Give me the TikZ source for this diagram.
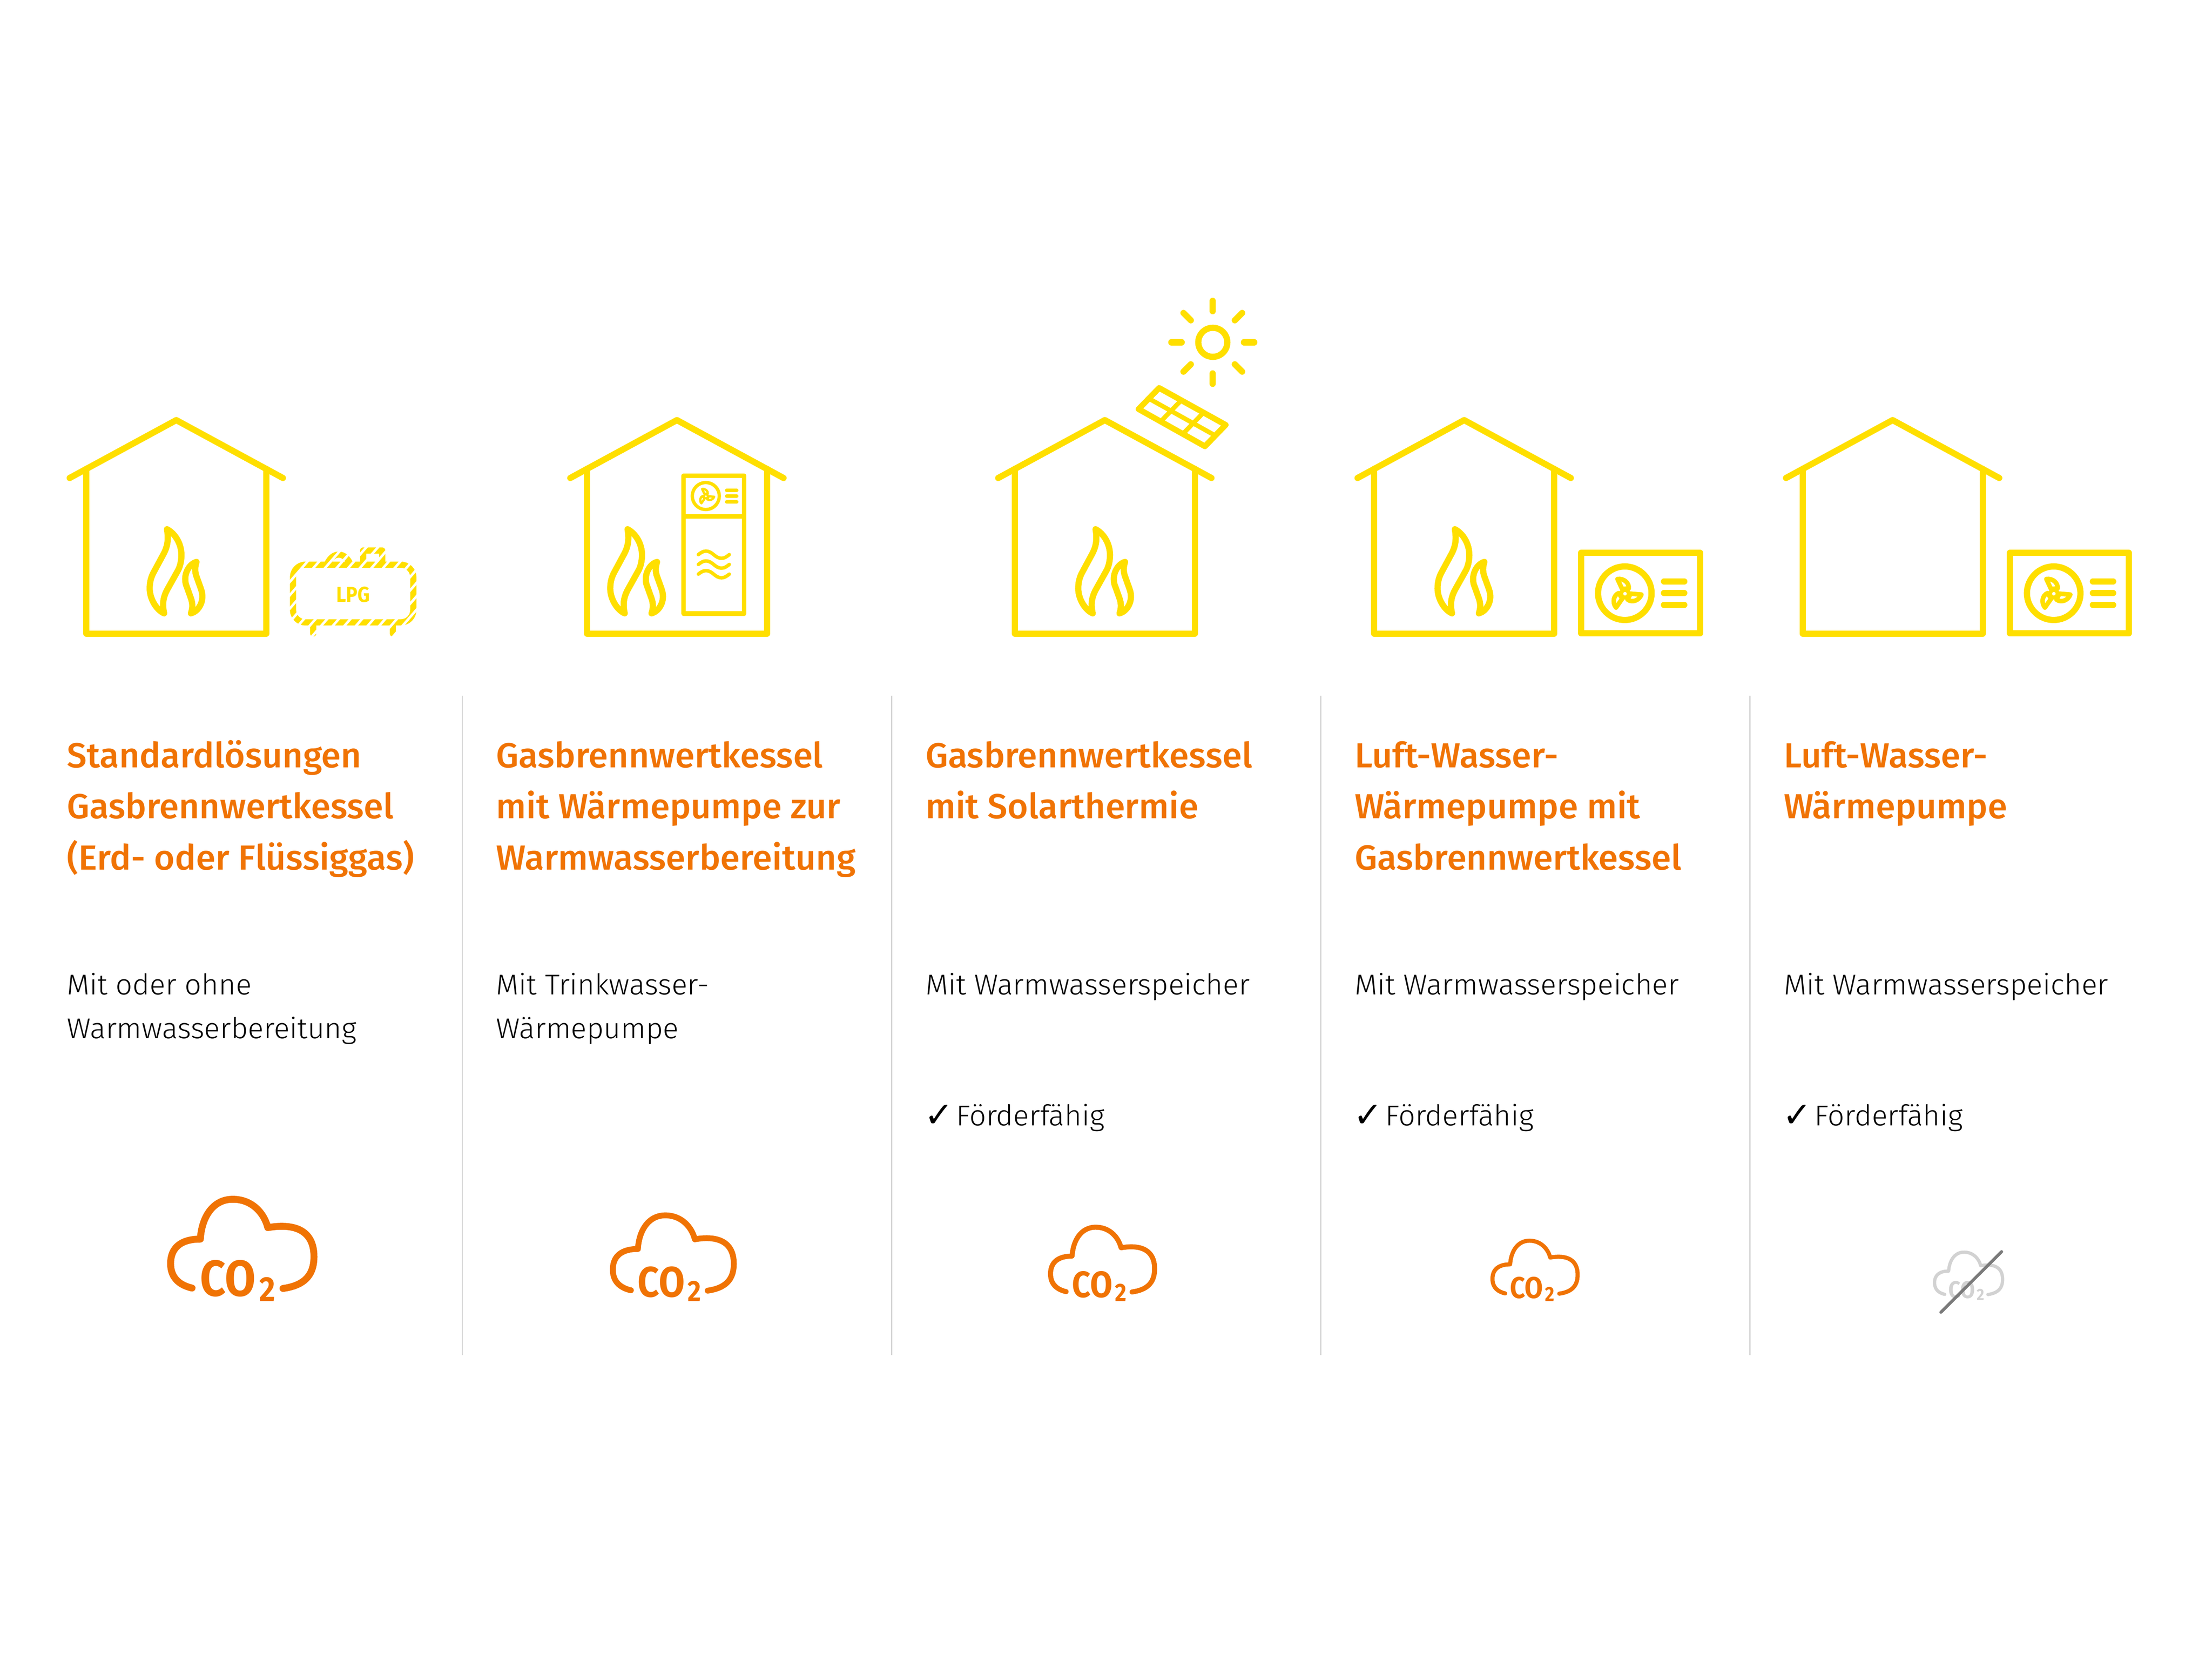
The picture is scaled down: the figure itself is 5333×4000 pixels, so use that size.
\documentclass[tikz,border=0pt]{standalone}
\usepackage{fontspec}
\setmainfont{Fira Sans}
\newfontfamily\headfont[FakeStretch=1.016]{Fira Sans Medium}
\newfontfamily\bodyfont[FakeStretch=1.027]{Fira Sans Light}
\newfontfamily\boldfont[FakeStretch=0.88]{Fira Sans}
\newfontfamily\checkfont{DejaVu Sans}
\usetikzlibrary{calc}
\definecolor{sunyellow}{HTML}{FFDF00}
\definecolor{heatorange}{HTML}{F07304}
\definecolor{rulegray}{HTML}{D4D4D4}
\definecolor{cloudgray}{HTML}{D2D2D2}
\definecolor{strikegray}{HTML}{7A7A7A}
\tikzset{
  icon/.style={draw=sunyellow,line width=15pt,line cap=round,line join=round},
  divider/.style={draw=rulegray,line width=3pt},
  headtext/.style={inner sep=0pt,anchor=base west,align=left,text=heatorange,font=\headfont\fontsize{84}{123.3}\selectfont},
  bodytext/.style={inner sep=0pt,anchor=base west,align=left,text=black,font=\bodyfont\fontsize{69}{105}\selectfont},
}
% house: apex x
\newcommand\houseicon[1]{%
  \draw[icon] (#1-257,1152) -- (#1,1012.5) -- (#1+257,1152);
  \draw[icon] (#1-217,1130) -- (#1-217,1527) -- (#1+217,1527) -- (#1+217,1130);
}
% flame pair: centre x
\newcommand\flameicon[1]{%
  \begin{scope}[shift={(#1-194.4,980)},x=0.3827pt,y=-0.3827pt]
    \draw[icon] (452,772) .. controls (462,830) and (458,875) .. (432,925)
       -- (370,1040) .. controls (350,1075) and (343,1110) .. (343,1145)
       .. controls (343,1210) and (385,1280) .. (434,1302)
       .. controls (420,1240) and (430,1195) .. (455,1150)
       -- (522,1030) .. controls (535,1005) and (543,970) .. (543,935)
       .. controls (543,865) and (505,800) .. (452,772) -- cycle;
    \draw[icon] (638,978) .. controls (595,990) and (567,1040) .. (567,1085)
       .. controls (567,1105) and (570,1120) .. (577,1135)
       -- (602,1205) .. controls (615,1240) and (614,1270) .. (603,1302)
       .. controls (645,1290) and (675,1245) .. (675,1195)
       .. controls (675,1175) and (670,1160) .. (665,1145)
       -- (638,1070) .. controls (627,1040) and (627,1010) .. (638,978) -- cycle;
  \end{scope}
}
% fan blades and hub: hub centre, scale, line width
\newcommand\fanblades[3]{%
  \begin{scope}[shift={(#1)},x=#2*0.3333pt,y=-#2*0.3333pt]
    \foreach \a in {0,120,240}{
      \draw[icon,line width=#3,rotate=\a] (-54,-106) .. controls (-8,-113) and (32,-78) .. (27,-37) -- (-21,-35) -- cycle;
    }
    \fill[sunyellow] (0,0) circle[radius=42];
    \fill[white] (0,0) circle[radius=13];
  \end{scope}
}
% outdoor unit: left x of centerline rectangle
\newcommand\outdoorunit[1]{%
  \draw[icon,line cap=butt,line join=round] (#1,1332.5) rectangle (#1+286.5,1526.5);
  \draw[icon] (#1+105.3,1429.7) circle[radius=64.5];
  \foreach \y in {1401.3,1429.3,1457.7}{\draw[icon] (#1+199.7,\y) -- (#1+248.7,\y);}
  \fanblades{#1+105.7,1431}{1}{11pt}
}
% cloud: left x, bottom y, scale, colour, name
\newcommand\cloudicon[5]{%
  \pgfmathsetmacro\cofs{122*#3}\pgfmathsetmacro\tfs{84*#3}\pgfmathsetmacro\clw{16.7*#3}%
  \begin{scope}[shift={(#1,#2)},x=#3*0.3333pt,y=-#3*0.3333pt]
    \draw[draw=#4,line width=\clw pt,line cap=round,line join=round]
      (180,-98) .. controls (105,-115) and (25,-160) .. (25,-275)
      .. controls (25,-390) and (100,-452) .. (240,-452)
      .. controls (250,-610) and (330,-740) .. (475,-740)
      .. controls (610,-740) and (700,-645) .. (728,-535)
      .. controls (930,-570) and (1062,-510) .. (1062,-325)
      .. controls (1062,-180) and (980,-115) .. (838,-95);
    \node[inner sep=0pt,anchor=base,text=#4,font=\boldfont\bfseries\fontsize{\cofs}{\cofs}\selectfont] (#5co) at (441,-42) {CO};
    \node[inner sep=0pt,anchor=base,text=#4,font=\boldfont\bfseries\fontsize{\tfs}{\tfs}\selectfont] (#5two) at (724,-2) {2};
  \end{scope}
}
\begin{document}
\begin{tikzpicture}[x=1pt,y=-1pt]
\useasboundingbox (0,0) rectangle (5333,4000);
% ---- house 1 with LPG tank
\houseicon{425}
\flameicon{424}
\begin{scope}
  \clip (690,1305) rectangle (1015,1545);
  \draw[icon,rounded corners=30pt,line cap=butt] (706.5,1361) rectangle (996.5,1500);
  \draw[icon,line cap=butt] (787.7,1361) .. controls (795,1345) and (805,1336.7) .. (816.7,1336.7) .. controls (828,1336.7) and (838,1345) .. (845.7,1361);
  \draw[icon,line cap=butt,line join=round] (875.3,1361) -- (875.3,1326.7) -- (921.3,1326.7) -- (921.3,1361);
  \draw[icon] (755,1500) -- (755,1526.8);
  \draw[icon] (947.3,1500) -- (947.3,1526.8);
  \foreach \k in {-7,...,13}{
    \draw[white,line width=6pt] (769.3+\k*28+0.87*60,1293.3) -- (769.3+\k*28-0.87*210,1563.3);
  }
\end{scope}
\node[inner sep=0pt,text=sunyellow,font=\boldfont\bfseries\fontsize{52}{52}\selectfont] (lpg) at (851.3,1433) {LPG};
% ---- house 2 with heat pump
\houseicon{1632}
\flameicon{1534.4}
\draw[icon,line width=11pt,line cap=butt] (1648,1146.5) rectangle (1793.9,1478.7);
\draw[icon,line width=11pt,line cap=butt] (1648,1245) -- (1793.9,1245);
\draw[icon,line width=8pt] (1701.6,1195.5) circle[radius=32.5];
\foreach \y in {1181.7,1195.5,1209.6}{\draw[icon,line width=8.4pt] (1752,\y) -- (1776.3,\y);}
\fanblades{1701.8,1196.2}{0.504}{5.6pt}
\begin{scope}[shift={(1340,980)},x=0.3827pt,y=-0.3827pt]
  \foreach \d in {0,62,123}{
    \draw[icon,line width=8.4pt] (898,932+\d) .. controls (915,918+\d) and (930,910+\d) .. (945,910+\d)
      .. controls (990,910+\d) and (1000,955+\d) .. (1045,955+\d)
      .. controls (1062,955+\d) and (1075,946+\d) .. (1093,932+\d);
  }
\end{scope}
% ---- house 3 with solar panel and sun
\houseicon{2663.7}
\flameicon{2662.7}
\coordinate (pa) at (2794.6,935);
\coordinate (pb) at (2955,1024);
\coordinate (pc) at (2905,1075.7);
\coordinate (pd) at (2745,986);
\draw[icon,line width=14pt] (pa) -- (pb) -- (pc) -- (pd) -- cycle;
\draw[icon,line width=11pt,line cap=butt] ($(pa)!0.5!(pd)$) -- ($(pb)!0.5!(pc)$);
\draw[icon,line width=11pt,line cap=butt] ($(pa)!0.333!(pb)$) -- ($(pd)!0.333!(pc)$);
\draw[icon,line width=11pt,line cap=butt] ($(pa)!0.667!(pb)$) -- ($(pd)!0.667!(pc)$);
\coordinate (suncentre) at (2924,825);
\draw[icon] (suncentre) circle[radius=35];
\foreach \a in {0,45,...,315}{
  \draw[icon] ($(suncentre)+(\a:75)$) -- ($(suncentre)+(\a:100)$);
}
% ---- house 4 with outdoor unit
\houseicon{3530}
\flameicon{3529}
\outdoorunit{3812}
% ---- house 5 with outdoor unit
\houseicon{4563}
\outdoorunit{4846}
% ---- dividers
\coordinate (d1t) at (1114.6,1677);\coordinate (d1b) at (1114.6,3266);
\coordinate (d2t) at (2149.4,1677);\coordinate (d2b) at (2149.4,3266);
\coordinate (d3t) at (3184.2,1677);\coordinate (d3b) at (3184.2,3266);
\coordinate (d4t) at (4219,1677);\coordinate (d4b) at (4219,3266);
\draw[divider] (d1t) -- (d1b);
\draw[divider] (d2t) -- (d2b);
\draw[divider] (d3t) -- (d3b);
\draw[divider] (d4t) -- (d4b);
% ---- headings (the base of a node of several lines is its last line)
\node[headtext] (h1) at (161.5,2096.3) {Standardlösungen\\Gasbrennwertkessel\\(Erd- oder Flüssiggas)};
\node[headtext] (h2) at (1196.3,2096.3) {Gasbrennwertkessel\\mit Wärmepumpe zur\\Warmwasserbereitung};
\node[headtext] (h3) at (2231.1,1973) {Gasbrennwertkessel\\mit Solarthermie};
\node[headtext] (h4) at (3265.9,2096.3) {Luft-Wasser-\\Wärmepumpe mit\\Gasbrennwertkessel};
\node[headtext] (h5) at (4300.7,1973) {Luft-Wasser-\\Wärmepumpe};
% ---- body
\node[bodytext] (b1) at (161.5,2502.3) {Mit oder ohne\\Warmwasserbereitung};
\node[bodytext] (b2) at (1196.3,2502.3) {Mit Trinkwasser-\\Wärmepumpe};
\node[bodytext] (b3) at (2231.1,2397.3) {Mit Warmwasserspeicher};
\node[bodytext] (b4) at (3265.9,2397.3) {Mit Warmwasserspeicher};
\node[bodytext] (b5) at (4300.7,2397.3) {Mit Warmwasserspeicher};
\foreach \n/\x in {3/2231.1,4/3265.9,5/4300.7}{
  \node[bodytext] (f\n) at (\x+74,2713) {Förderfähig};
  \node[inner sep=0pt,anchor=base west,font=\checkfont\fontsize{84}{84}\selectfont] (c\n) at (\x-3,2716) {✓};
}
% ---- clouds
\cloudicon{403}{3137}{1}{heatorange}{a}
\cloudicon{1470.4}{3137.3}{0.844}{heatorange}{b}
\cloudicon{2526.7}{3136.7}{0.726}{heatorange}{c}
\cloudicon{3593.3}{3136.7}{0.594}{heatorange}{d}
\cloudicon{4660}{3135}{0.475}{cloudgray}{e}
\coordinate (sa) at (4679.3,3162.7);
\coordinate (sb) at (4825.7,3016.7);
\draw[draw=strikegray,line width=7.3pt,line cap=round] (sa) -- (sb);
\end{tikzpicture}
\end{document}
